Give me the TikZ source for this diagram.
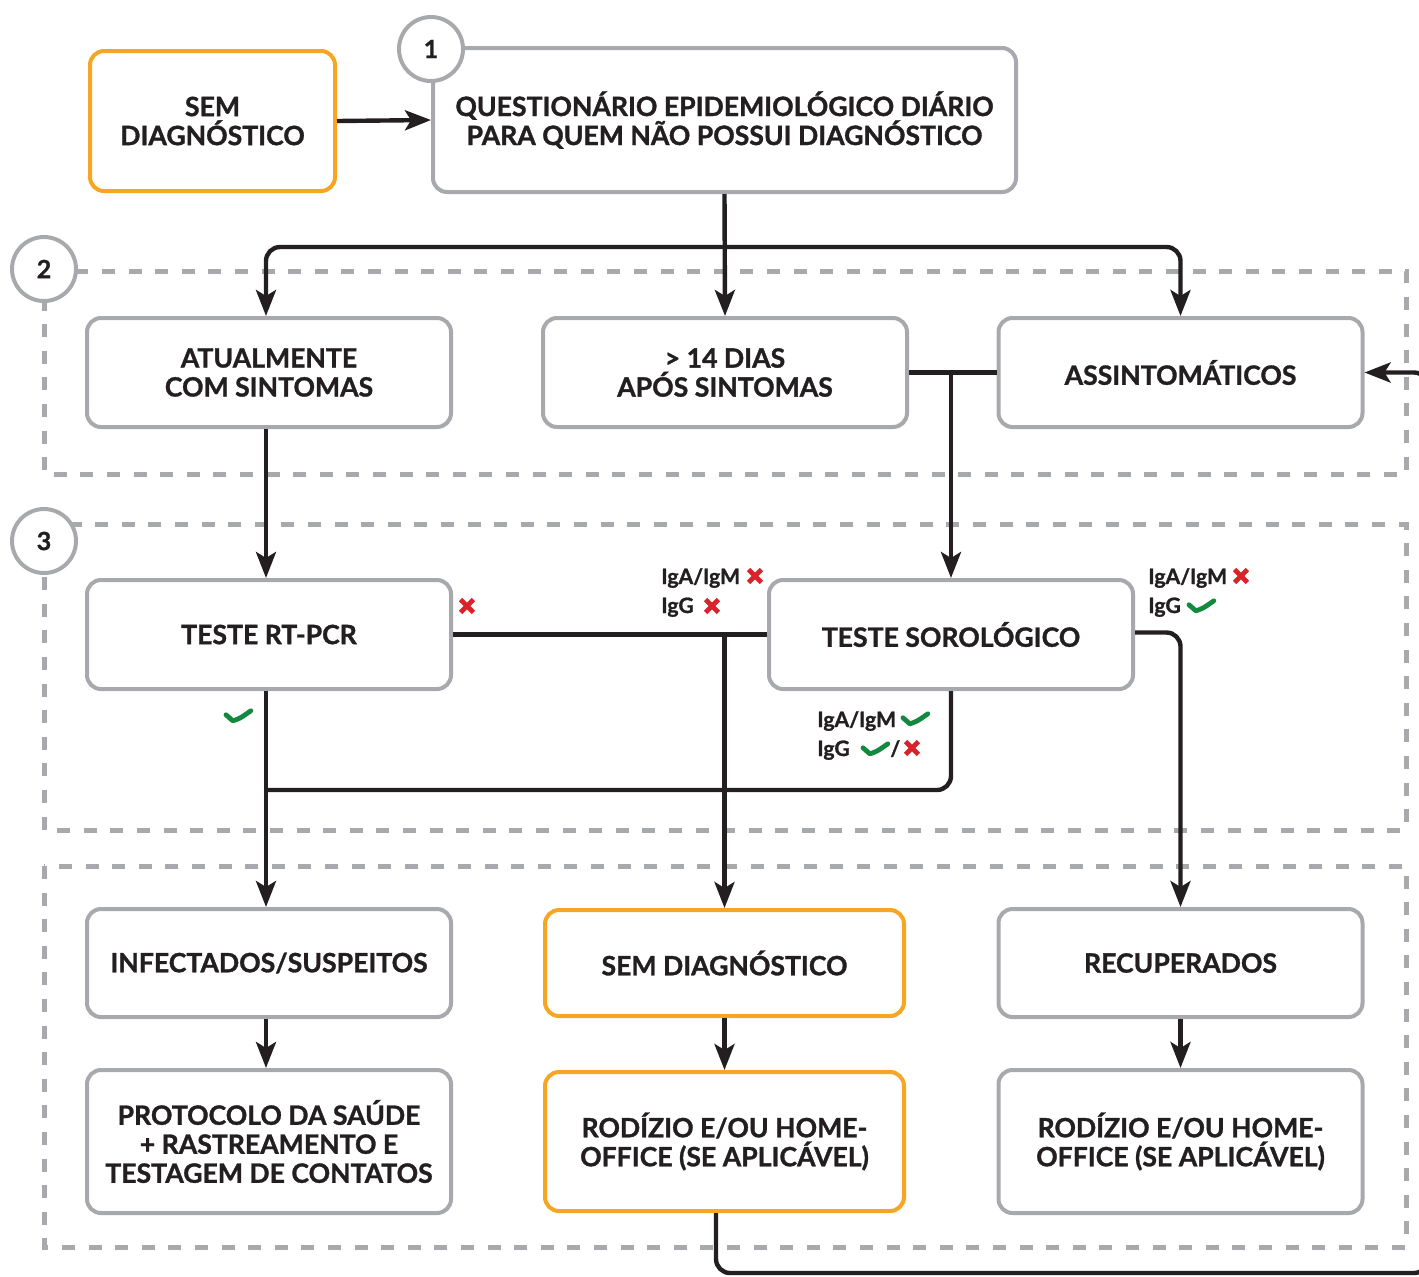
\documentclass[tikz,border=0pt]{standalone}
\usepackage{fontspec}
\setmainfont{Lato}[BoldFeatures={FakeBold=1.2}]
\usetikzlibrary{arrows.meta}
\definecolor{boxgray}{HTML}{A7A9AC}
\definecolor{orng}{HTML}{F6A623}
\definecolor{ink}{HTML}{231F20}
\definecolor{xred}{HTML}{D9232B}
\definecolor{okgreen}{HTML}{13883F}
\tikzset{
  box/.style={draw=boxgray, line width=2pt, rounded corners=7pt, fill=white, align=center,
    text=ink, font=\bfseries\fontsize{13.3}{14.5}\selectfont, inner sep=0pt,
    minimum width=182pt, minimum height=54.5pt},
  obox/.style={box, draw=orng},
  conn/.style={draw=ink, line width=2.2pt, rounded corners=7pt},
  arr/.style={conn, -{Stealth[length=13pt,width=10pt,inset=3pt]}},
  secdash/.style={draw=boxgray, line width=2.5pt, dash pattern=on 6.5pt off 6.8pt},
  numcirc/.style={circle, draw=boxgray, line width=2pt, fill=white, minimum size=32pt,
    inner sep=0pt, text=ink, font=\bfseries\fontsize{12.5}{13}\selectfont},
  ig/.style={anchor=base west, inner sep=0pt, text=ink, font=\bfseries\fontsize{10.6}{12}\selectfont},
  xmark/.pic={\draw[xred, line width=2.4pt] (-3.2pt,-3.2pt)--(3.2pt,3.2pt) (-3.2pt,3.2pt)--(3.2pt,-3.2pt);},
  chk/.pic={\draw[okgreen, line width=2.4pt, line cap=round, line join=round]
    (-6pt,0.6pt) -- (-2.6pt,-2.4pt) .. controls (1pt,-1.2pt) .. (6.4pt,2.6pt);}
}
\begin{document}
\begin{tikzpicture}[x=0.5pt,y=-0.5pt]
\useasboundingbox (0,0) rectangle (1419,1276);
% section frames
\draw[secdash] (44,271) rectangle (1406,474);
\draw[secdash] (44,524) rectangle (1406,830);
\draw[secdash] (44,866) rectangle (1406,1247);
% boxes
\node[obox, minimum width=122.5pt, minimum height=70pt] (sem1) at (212.5,121) {SEM\\DIAGNÓSTICO};
\node[box, minimum width=291.5pt, minimum height=72pt] (q) at (724.5,120) {QUESTIONÁRIO EPIDEMIOLÓGICO DIÁRIO\\PARA QUEM NÃO POSSUI DIAGNÓSTICO};
\node[box] (atual) at (269,372.5) {ATUALMENTE\\COM SINTOMAS};
\node[box] (dias) at (725,372.5) {> 14 DIAS\\APÓS SINTOMAS};
\node[box] (assint) at (1180.5,372.5) {ASSINTOMÁTICOS};
\node[box] (rtpcr) at (269,634.5) {TESTE RT-PCR};
\node[box] (soro) at (951,634.5) {TESTE SOROLÓGICO};
\node[box, minimum height=54pt] (infect) at (269,963) {INFECTADOS/SUSPEITOS};
\node[obox, minimum width=179.5pt, minimum height=53pt] (semd) at (724.5,963) {SEM DIAGNÓSTICO};
\node[box, minimum height=54pt] (recup) at (1180.5,963) {RECUPERADOS};
\node[box, minimum height=71.5pt] (proto) at (269,1141.5) {PROTOCOLO DA SAÚDE\\+ RASTREAMENTO E\\TESTAGEM DE CONTATOS};
\node[obox, minimum width=179.5pt, minimum height=69.5pt] (rod1) at (724.5,1141.5) {RODÍZIO E/OU HOME-\\OFFICE (SE APLICÁVEL)};
\node[box, minimum height=71.5pt] (rod2) at (1180.5,1141.5) {RODÍZIO E/OU HOME-\\OFFICE (SE APLICÁVEL)};
% number circles
\node[numcirc] (c1) at (431,49) {1};
\node[numcirc] (c2) at (44,269) {2};
\node[numcirc] (c3) at (44,541) {3};
% helper coordinates
\coordinate (hub) at (726,247);
\coordinate (join) at (266,790);
\coordinate (loopc) at (1428,1273);
% connectors
\draw[arr] (sem1.east) -- (q.west);
\draw[arr] (q.south) -- (dias.north);
\draw[arr] (hub) -| ([xshift=-1.5pt]atual.north);
\draw[arr] (hub) -| (assint.north);
\draw[conn] (dias.east) -- (assint.west);
\draw[arr] (dias.east -| soro.north) -- (soro.north);
\draw[arr] ([xshift=-1.5pt]atual.south) -- ([xshift=-1.5pt]rtpcr.north);
\draw[conn] (rtpcr.east) -- (soro.west);
\draw[arr] (rtpcr.east -| semd.north) -- (semd.north);
\draw[arr] ([xshift=-1.5pt]rtpcr.south) -- ([xshift=-1.5pt]infect.north);
\draw[conn] (soro.south) |- (join);
\draw[arr] ([yshift=1pt]soro.east) -| (recup.north);
\draw[arr] ([xshift=-1.5pt]infect.south) -- ([xshift=-1.5pt]proto.north);
\draw[arr] (semd.south) -- (rod1.north);
\draw[arr] (recup.south) -- (rod2.north);
\draw[arr] ([xshift=-4.25pt]rod1.south) |- (loopc) |- (assint.east);
% result labels
\pic at (467,606) {xmark};
\pic at (238,716) {chk};
\node[ig] (l1a) at (661,584) {IgA/IgM};
\pic at (755,576) {xmark};
\node[ig] (l1b) at (661,613) {IgG};
\pic at (712,606) {xmark};
\node[ig] (l2a) at (1148,584) {IgA/IgM};
\pic at (1241,576) {xmark};
\node[ig] (l2b) at (1148,613) {IgG};
\pic at (1201,606) {chk};
\node[ig] (l3a) at (817,727) {IgA/IgM};
\pic at (915,719) {chk};
\node[ig] (l3b) at (817,756) {IgG};
\pic at (875,749) {chk};
\node[ig] (l3s) at (890,756) {/};
\pic at (912,748) {xmark};
\end{tikzpicture}
\end{document}
